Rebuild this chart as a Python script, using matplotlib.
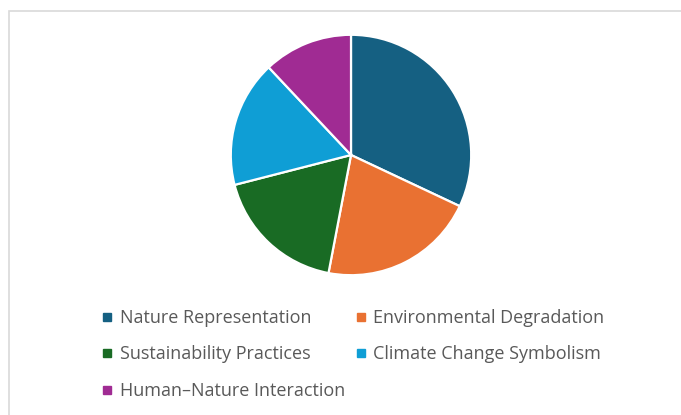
import matplotlib.pyplot as plt
from matplotlib.patches import Rectangle
from matplotlib.lines import Line2D

categories = ["Nature Representation", "Environmental Degradation",
              "Sustainability Practices", "Climate Change Symbolism",
              "Human\u2013Nature Interaction"]
shares = [32, 21, 18, 17, 12]
colors = ["#156082", "#E97132", "#196B24", "#0F9ED5", "#A02B93"]

plt.rcParams['font.family'] = ['Open Sans', 'DejaVu Sans']

fig = plt.figure(figsize=(6.81, 4.15), dpi=100)

# light frame around the chart area
fig.patches.append(Rectangle((9 / 681, -0.1), 1.2, 1.1 - 11 / 415,
                             transform=fig.transFigure, fill=False,
                             edgecolor="#D9D9D9", linewidth=1.2))

ax = fig.add_axes([229 / 681, 138 / 415, 244 / 681, 244 / 415])
wedges, _ = ax.pie(shares, colors=colors, startangle=90, counterclock=False,
                   radius=1, wedgeprops=dict(edgecolor="white", linewidth=1.6))
for w in wedges:
    w.set_clip_on(False)
ax.set_xlim(-1.015, 1.015)
ax.set_ylim(-1.015, 1.015)
ax.set_aspect("equal")
ax.axis("off")

# legend fills column by column, so reorder to read left-to-right
order = [0, 2, 4, 1, 3]
handles = [Line2D([], [], marker="s", linestyle="none", markersize=6,
                  markerfacecolor=colors[i], markeredgecolor=colors[i])
           for i in order]
labels = [categories[i] for i in order]
leg = fig.legend(handles, labels, ncol=2, loc="upper left",
                 bbox_to_anchor=(93 / 681, 1 - 300 / 415),
                 frameon=False, fontsize=13, labelcolor="#595959",
                 handlelength=0.6, handletextpad=0.4, columnspacing=0.55,
                 labelspacing=1.02, borderpad=0)

fig.savefig("out.png", dpi=100)
